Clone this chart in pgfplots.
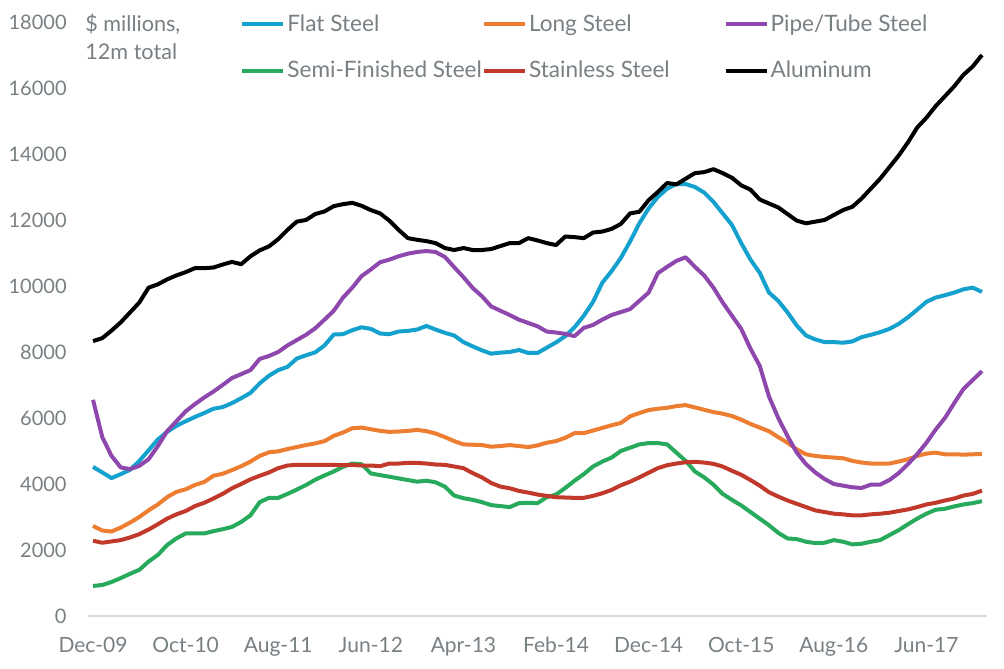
\documentclass[border=0pt]{standalone}
\usepackage{fontspec}
\setmainfont{Lato}
\usepackage{pgfplots}
\usepackage{pgfplotstable}
\pgfplotsset{compat=1.18}
\definecolor{flatc}{RGB}{20,161,205}
\definecolor{longc}{RGB}{237,125,49}
\definecolor{pipec}{RGB}{142,72,173}
\definecolor{semic}{RGB}{40,170,92}
\definecolor{stainc}{RGB}{192,57,43}
\definecolor{textgray}{RGB}{120,128,132}
\definecolor{gridgray}{RGB}{217,217,217}
\pgfplotstableread{
i flat long pipe semi stain alum
0 4520 2730 6550 910 2280 8330
1 4350 2590 5420 940 2220 8420
2 4180 2560 4850 1030 2260 8650
3 4300 2680 4500 1150 2300 8900
4 4430 2830 4450 1280 2380 9200
5 4700 3000 4550 1400 2480 9500
6 5020 3200 4750 1650 2620 9950
7 5350 3380 5150 1850 2780 10050
8 5580 3600 5600 2150 2950 10200
9 5760 3760 5900 2350 3080 10320
10 5900 3840 6200 2500 3180 10420
11 6030 3970 6420 2500 3330 10540
12 6150 4060 6620 2500 3430 10540
13 6280 4250 6800 2570 3560 10560
14 6330 4310 7000 2630 3700 10650
15 6450 4420 7210 2700 3870 10730
16 6600 4540 7330 2850 4000 10660
17 6760 4680 7450 3050 4140 10900
18 7050 4850 7790 3450 4250 11080
19 7280 4960 7880 3580 4350 11200
20 7450 4990 8000 3580 4480 11420
21 7550 5060 8200 3700 4560 11700
22 7800 5120 8360 3830 4580 11950
23 7900 5180 8520 3970 4580 12000
24 7990 5230 8720 4130 4580 12180
25 8200 5300 8980 4260 4580 12260
26 8530 5460 9250 4380 4580 12420
27 8540 5560 9650 4520 4570 12480
28 8660 5690 9950 4620 4580 12520
29 8750 5710 10300 4600 4560 12430
30 8700 5660 10500 4320 4560 12300
31 8560 5610 10720 4270 4540 12200
32 8540 5580 10800 4220 4620 11980
33 8620 5590 10900 4170 4620 11700
34 8640 5610 10980 4120 4640 11450
35 8680 5640 11030 4070 4640 11400
36 8790 5600 11060 4100 4620 11360
37 8680 5530 11030 4050 4590 11300
38 8580 5420 10880 3920 4580 11150
39 8500 5300 10570 3650 4530 11090
40 8300 5200 10270 3570 4480 11150
41 8170 5190 9940 3520 4330 11090
42 8050 5180 9690 3450 4200 11090
43 7950 5130 9380 3360 4030 11120
44 7980 5150 9250 3330 3920 11210
45 8000 5180 9120 3300 3870 11300
46 8060 5150 8980 3420 3790 11300
47 7970 5120 8880 3430 3740 11450
48 7970 5170 8780 3420 3680 11380
49 8130 5250 8620 3600 3640 11300
50 8290 5300 8590 3680 3600 11240
51 8480 5400 8550 3880 3590 11500
52 8750 5540 8480 4100 3580 11480
53 9100 5540 8730 4300 3580 11450
54 9520 5620 8820 4530 3640 11620
55 10100 5700 8980 4680 3720 11650
56 10450 5780 9120 4800 3820 11730
57 10850 5850 9210 5000 3960 11880
58 11350 6050 9300 5100 4070 12200
59 11900 6150 9550 5200 4200 12250
60 12350 6240 9800 5240 4340 12600
61 12700 6280 10390 5240 4480 12850
62 12950 6310 10580 5200 4570 13120
63 13090 6360 10760 4950 4620 13080
64 13090 6390 10870 4700 4660 13250
65 13000 6320 10580 4380 4670 13420
66 12830 6250 10320 4200 4650 13450
67 12550 6180 9950 3980 4610 13540
68 12200 6130 9500 3700 4530 13420
69 11850 6060 9100 3520 4400 13280
70 11300 5950 8700 3350 4280 13050
71 10800 5820 8100 3150 4120 12920
72 10400 5710 7580 2950 3950 12620
73 9800 5600 6650 2750 3750 12500
74 9550 5420 6000 2520 3620 12380
75 9200 5250 5450 2350 3500 12180
76 8800 5050 4950 2330 3400 11980
77 8500 4900 4600 2250 3300 11900
78 8380 4850 4350 2210 3200 11950
79 8300 4820 4150 2220 3150 12000
80 8300 4800 4000 2300 3100 12150
81 8280 4780 3950 2250 3080 12300
82 8320 4700 3900 2170 3050 12400
83 8450 4650 3880 2190 3050 12650
84 8520 4620 3980 2250 3080 12950
85 8600 4620 3980 2300 3100 13250
86 8700 4620 4120 2450 3130 13600
87 8850 4680 4330 2600 3180 13950
88 9050 4750 4600 2780 3230 14350
89 9280 4850 4900 2950 3300 14800
90 9520 4920 5250 3100 3380 15100
91 9650 4950 5650 3220 3430 15450
92 9720 4900 6000 3250 3500 15750
93 9800 4900 6450 3320 3560 16050
94 9900 4890 6880 3380 3650 16400
95 9950 4900 7150 3420 3700 16650
96 9820 4910 7420 3480 3800 17000
}\datatable
\begin{document}
\begin{tikzpicture}
\path[use as bounding box] (0,0) rectangle (502pt,334pt);
\begin{axis}[
  at={(44.2pt,26pt)}, anchor=south west, scale only axis,
  width=449.1pt, height=297pt,
  xmin=-0.5, xmax=96.5, ymin=0, ymax=18000,
  axis line style={draw=none},
  tick style={draw=none},
  major tick length=0pt,
  xtick={0,10,...,90},
  xticklabels={Dec-09,Oct-10,Aug-11,Jun-12,Apr-13,Feb-14,Dec-14,Oct-15,Aug-16,Jun-17},
  ytick={0,2000,...,18000},
  scaled y ticks=false,
  /pgf/number format/.cd, 1000 sep={}, assume math mode=true, /pgfplots/.cd,
  every tick label/.append style={text=textgray},
  yticklabel style={font=\fontsize{10}{12}\selectfont, anchor=east, inner sep=0pt, xshift=-10.7pt},
  xticklabel style={font=\fontsize{10.5}{12}\selectfont, anchor=north, inner sep=0pt, yshift=-10.5pt},
  extra y ticks={0}, extra y tick labels={},
  extra y tick style={grid=major, major grid style={draw=gridgray, line width=1pt}},
  clip=false,
  legend columns=3,
  legend cell align=left,
  legend style={draw=none, fill=none, at={(rel axis cs:0,1)}, anchor=north west,
    xshift=75.8pt, yshift=4pt, font=\fontsize{11.3}{13}\selectfont, text=textgray,
    inner sep=0pt, row sep=13.5pt, column sep=0pt,
    /tikz/every odd column/.append style={column sep=1pt},
    nodes={inner sep=0pt}},
  legend image code/.code={\draw[#1, line width=2pt] (0pt,0pt) -- (20.5pt,0pt);},
  every axis plot/.append style={line width=2pt, line join=round, no marks},
]
\addplot[flatc] table[x=i, y=flat] {\datatable};
\addlegendentry{\makebox[97.3pt][l]{Flat Steel}}
\addplot[longc] table[x=i, y=long] {\datatable};
\addlegendentry{\makebox[97.3pt][l]{Long Steel}}
\addplot[pipec] table[x=i, y=pipe] {\datatable};
\addlegendentry{Pipe/Tube Steel}
\addplot[semic] table[x=i, y=semi] {\datatable};
\addlegendentry{\makebox[97.3pt][l]{Semi-Finished Steel}}
\addplot[stainc] table[x=i, y=stain] {\datatable};
\addlegendentry{\makebox[97.3pt][l]{Stainless Steel}}
\addplot[black] table[x=i, y=alum] {\datatable};
\addlegendentry{Aluminum}
\end{axis}
\node[anchor=base west, inner sep=0pt, text=textgray, font=\fontsize{10.8}{12}\selectfont] at (42.5pt,318pt) {\$ millions,};
\node[anchor=base west, inner sep=0pt, text=textgray, font=\fontsize{10.8}{12}\selectfont] at (42.5pt,304pt) {12m total};
\end{tikzpicture}
\end{document}
